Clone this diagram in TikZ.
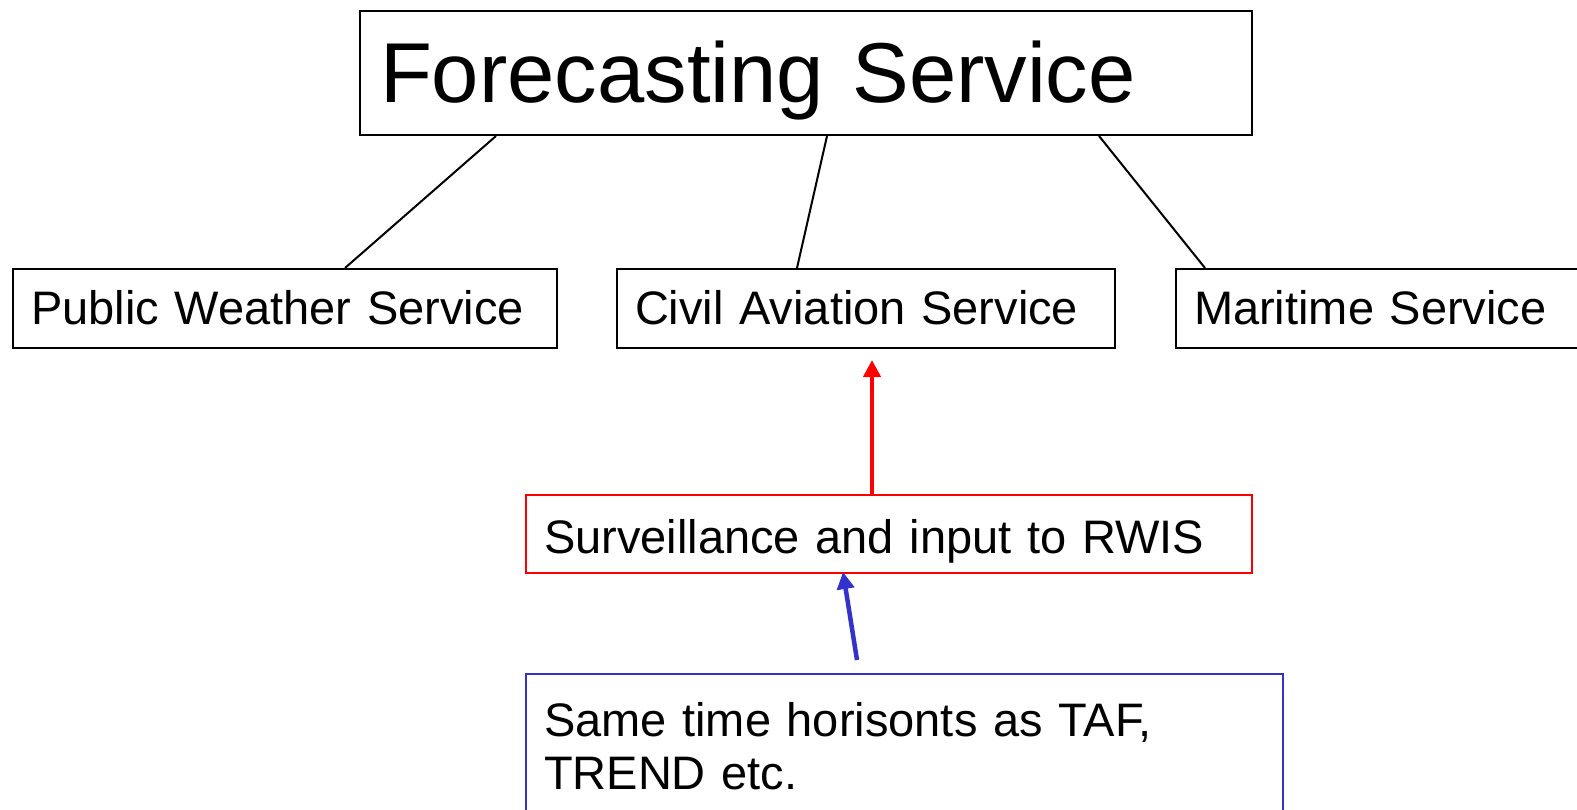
\documentclass[tikz,border=0pt]{standalone}
\usepackage{fontspec}
\setmainfont{Liberation Sans}
\usetikzlibrary{arrows.meta,calc}
\definecolor{tafblue}{RGB}{51,51,204}

\begin{document}
\begin{tikzpicture}[x=1pt,y=-1pt,
        servicebox/.style={draw,line width=2pt,rectangle,anchor=north west,inner xsep=18pt,inner ysep=0pt,
            align=left,font=\fontsize{47}{53}\selectfont,text height=56pt,text depth=23pt},
        link/.style={line width=2pt},
        uparrow/.style={line width=4.5pt,-{Triangle[width=17pt,length=17pt]}}]
        \useasboundingbox (0,0) rectangle (1577,810);
        \clip (0,0) rectangle (1577,810);
        \node[servicebox,font=\fontsize{85}{100}\selectfont,inner xsep=20pt,text width=852pt,
            text height=92pt,text depth=32pt] (fs) at (359,10) {Forecasting Service};
        \node[servicebox,text width=508pt] (pws) at (12,268) {Public Weather Service};
        \node[servicebox,text width=462pt] (cas) at (616,268) {Civil Aviation Service};
        \node[servicebox,text width=460pt] (ms) at (1175,268) {Maritime Service};
        \node[servicebox,draw=red,text width=690pt,text height=58pt,text depth=20pt] (rwis) at (525,494)
            {Surveillance and input to RWIS};
        \node[servicebox,draw=tafblue,text width=721pt,text height=62pt,
            text depth=90pt] (taf) at (525,673) {Same time horisonts as TAF,\\TREND etc.};
        % tree lines
        \draw[link] ($(fs.south west)+(137,0)$) -- ($(pws.north west)+(333,0)$);
        \draw[link] ($(fs.south west)+(468,0)$) -- ($(cas.north west)+(181,0)$);
        \draw[link] ($(fs.south west)+(740,0)$) -- ($(ms.north west)+(30,0)$);
        % arrows
        \draw[uparrow,red] ($(rwis.north west)+(347,0)$) -- ($(cas.south west)+(256,11)$);
        \draw[uparrow,tafblue] ($(taf.north west)+(332,-13)$) -- ($(rwis.south west)+(318,-2)$);
    \end{tikzpicture}
\end{document}
